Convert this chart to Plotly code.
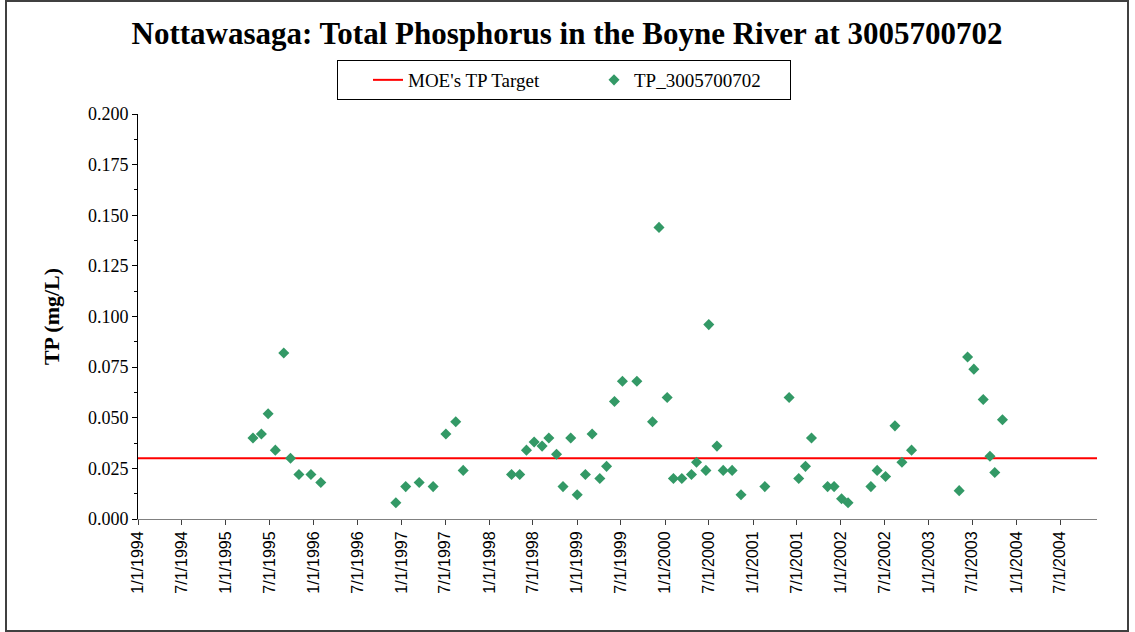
import plotly.graph_objects as go

# ---------------- data ----------------
sample_dates = [
    "1995-04-24", "1995-05-29", "1995-06-26", "1995-07-26", "1995-08-30",
    "1995-09-27", "1995-11-01", "1995-12-21", "1996-01-31", "1996-12-08",
    "1997-01-18", "1997-03-15", "1997-05-12", "1997-07-04", "1997-08-14",
    "1997-09-14", "1998-04-03", "1998-05-07", "1998-06-04", "1998-07-06",
    "1998-08-08", "1998-09-05", "1998-10-07", "1998-11-03", "1998-12-05",
    "1999-01-01", "1999-02-04", "1999-03-04", "1999-04-05", "1999-05-03",
    "1999-06-05", "1999-07-08", "1999-09-06", "1999-11-10", "1999-12-07",
    "2000-01-10", "2000-02-05", "2000-03-11", "2000-04-20", "2000-05-11",
    "2000-06-19", "2000-07-01", "2000-08-04", "2000-08-30", "2000-10-06",
    "2000-11-12", "2001-02-19", "2001-05-31", "2001-07-10", "2001-08-07",
    "2001-09-01", "2001-11-07", "2001-12-04", "2002-01-04", "2002-01-31",
    "2002-05-06", "2002-06-01", "2002-07-06", "2002-08-14", "2002-09-12",
    "2002-10-22", "2003-05-08", "2003-06-12", "2003-07-08", "2003-08-16",
    "2003-09-13", "2003-10-03", "2003-11-04",
]
tp_values = [
    0.040, 0.042, 0.052, 0.034, 0.082,
    0.030, 0.022, 0.022, 0.018, 0.008,
    0.016, 0.018, 0.016, 0.042, 0.048,
    0.024, 0.022, 0.022, 0.034, 0.038,
    0.036, 0.040, 0.032, 0.016, 0.040,
    0.012, 0.022, 0.042, 0.020, 0.026,
    0.058, 0.068, 0.068, 0.048, 0.144,
    0.060, 0.020, 0.020, 0.022, 0.028,
    0.024, 0.096, 0.036, 0.024, 0.024,
    0.012, 0.016, 0.060, 0.020, 0.026,
    0.040, 0.016, 0.016, 0.010, 0.008,
    0.016, 0.024, 0.021, 0.046, 0.028,
    0.034, 0.014, 0.080, 0.074, 0.059,
    0.031, 0.023, 0.049,
]
target_dates = ["1994-01-01", "2004-12-01"]
target_values = [0.03, 0.03]

x_range = ["1994-01-01", "2004-12-01"]
y_range = [0, 0.2]

# ---------------- layout geometry (pixels) ----------------
W, H = 1135, 632
PL, PR, PT, PB = 138, 1097, 114, 519


def px_x(p):
    return (p - PL) / (PR - PL)


def px_y(p):
    return (PB - p) / (PB - PT)


fig = go.Figure()
fig.add_trace(go.Scatter(
    x=target_dates, y=target_values, mode="lines", name="MOE's TP Target",
    line=dict(color="#FF0000", width=2),
))
fig.add_trace(go.Scatter(
    x=sample_dates, y=tp_values, mode="markers", name="TP_3005700702",
    marker=dict(symbol="diamond", color="#339966", size=8.5,
                line=dict(width=0)),
))

fig.update_layout(
    width=W, height=H,
    margin=dict(l=PL, r=W - PR, t=PT, b=H - PB, pad=0),
    paper_bgcolor="white", plot_bgcolor="white",
    title=dict(
        text="<b>Nottawasaga: Total Phosphorus in the Boyne River at 3005700702</b>",
        x=567 / W, xref="container", xanchor="center",
        y=1 - 33 / H, yref="container", yanchor="middle",
        font=dict(family="Liberation Serif", size=31, color="black"),
    ),
    showlegend=True,
    legend=dict(
        orientation="h",
        x=px_x(337), xanchor="left",
        y=px_y(60), yanchor="top",
        bordercolor="black", borderwidth=1,
        bgcolor="white",
        font=dict(family="Liberation Serif", size=19, color="black"),
        entrywidth=151, entrywidthmode="pixels",
        indentation=30,
        tracegroupgap=0,
    ),
    xaxis=dict(
        type="date",
        range=x_range,
        tick0="1994-01-01", dtick="M6",
        tickformat="%-m/%-d/%Y",
        tickangle=-90,
        ticks="outside", ticklen=5, tickcolor="#404040",
        showline=True, linecolor="#808080", linewidth=1,
        showgrid=False, zeroline=False,
        tickfont=dict(family="Liberation Sans", size=16, color="black"),
    ),
    yaxis=dict(
        range=y_range,
        tick0=0, dtick=0.025,
        tickformat=".3f",
        ticks="outside", ticklen=5, tickcolor="black",
        minor=dict(dtick=0.0125, ticks="outside", ticklen=3, tickcolor="black"),
        showline=True, linecolor="black", linewidth=1,
        showgrid=False, zeroline=False,
        tickfont=dict(family="Liberation Serif", size=18, color="black"),
        title=dict(text="<b>TP (mg/L)</b>", standoff=22,
                   font=dict(family="Liberation Serif", size=22, color="black")),
    ),
    shapes=[dict(
        type="rect", xref="paper", yref="paper",
        x0=px_x(6), x1=px_x(1128), y0=px_y(631), y1=px_y(1),
        line=dict(color="#404040", width=2), fillcolor="rgba(0,0,0,0)",
        layer="below",
    )],
)

fig.write_html(
    "out.html",
    config={"displayModeBar": False},
    post_script="document.body.style.margin='0';document.body.style.overflow='hidden';",
)
